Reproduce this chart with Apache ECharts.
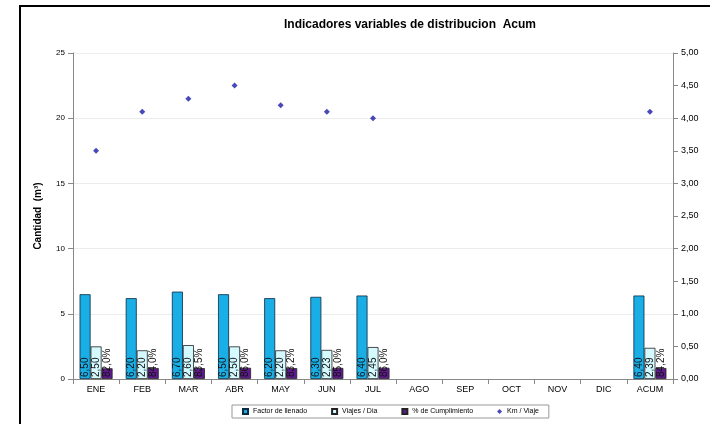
<!DOCTYPE html>
<html><head><meta charset="utf-8">
<script src="https://cdn.jsdelivr.net/npm/echarts@6/dist/echarts.min.js"></script>
<style>html,body{margin:0;padding:0;background:#fff}#c{width:710px;height:424px}</style>
</head><body><div id="c"></div>
<script>
const categories = ['ENE','FEB','MAR','ABR','MAY','JUN','JUL','AGO','SEP','OCT','NOV','DIC','ACUM'];
const factorLlenado = [6.50,6.20,6.70,6.50,6.20,6.30,6.40,null,null,null,null,null,6.40];
const viajesDia = [2.50,2.20,2.60,2.50,2.20,2.23,2.45,null,null,null,null,null,2.39];
const cumplimiento = [0.820,0.840,0.835,0.860,0.832,0.850,0.860,null,null,null,null,null,0.842];
const kmViaje = [3.5,4.1,4.3,4.5,4.2,4.1,4.0,null,null,null,null,null,4.1];
const leftTicks = [0,5,10,15,20,25];
const rightTicks = [0,0.5,1,1.5,2,2.5,3,3.5,4,4.5,5];

const fmt2 = v => v.toFixed(2).replace('.', ',');
const fmtPct = v => (v*100).toFixed(1).replace('.', ',') + '%';
const chart = echarts.init(document.getElementById('c'));
const lbl = (f) => ({show:true, position:'insideBottom', rotate:90, align:'left', verticalAlign:'middle', distance:2,
  fontSize:10, fontFamily:'Liberation Sans, Arial', color:'#111', formatter: p => p.value==null?'':f(p.value)});
chart.setOption({
  animation:false,
  textStyle:{fontFamily:'Liberation Sans, Arial'},
  title:{text:'Indicadores variables de distribucion  Acum', left:405, textAlign:'center', top:14,
    textStyle:{fontSize:12, fontWeight:'bold', color:'#000'}},
  graphic:[{type:'rect', shape:{x:20,y:6,width:700,height:440}, style:{fill:'none', stroke:'#000', lineWidth:2}, silent:true}],
  legend:{bottom:6, left:232, itemWidth:5, itemHeight:5, itemGap:24, borderColor:'#999', borderWidth:1, padding:[3,10],
    textStyle:{fontSize:7, color:'#000'},
    data:[{name:'Factor de llenado', icon:'rect'},{name:'Viajes / Dia', icon:'rect'},{name:'% de Cumplimiento', icon:'rect'},{name:'Km / Viaje', icon:'diamond'}]},
  grid:{left:73, right:37, top:53, bottom:45},
  xAxis:{type:'category', data:categories, axisLine:{lineStyle:{color:'#888'}}, axisTick:{show:true, alignWithLabel:false, lineStyle:{color:'#888'}},
    axisLabel:{fontSize:9, color:'#000', margin:6}},
  yAxis:[
    {type:'value', min:0, max:25, interval:5, name:'Cantidad  (m³)', nameLocation:'middle', nameGap:30, nameRotate:90,
      nameTextStyle:{fontSize:10, fontWeight:'bold', color:'#000'},
      axisLine:{show:true, lineStyle:{color:'#888'}}, axisTick:{show:true, lineStyle:{color:'#888'}},
      axisLabel:{fontSize:8, color:'#000'}, splitLine:{lineStyle:{color:'#ececec'}}},
    {type:'value', min:0, max:5, interval:0.5, position:'right',
      axisLine:{show:true, lineStyle:{color:'#888'}}, axisTick:{show:true, lineStyle:{color:'#888'}},
      axisLabel:{fontSize:9, color:'#000', formatter: v => fmt2(v)}, splitLine:{show:false}}
  ],
  series:[
    {name:'Factor de llenado', type:'bar', data:factorLlenado, barWidth:11, barGap:'0%',
      itemStyle:{color:'#19AEE6', borderColor:'#0a2a40', borderWidth:0.8}, label:lbl(fmt2)},
    {name:'Viajes / Dia', type:'bar', data:viajesDia, barWidth:11,
      itemStyle:{color:'#D4FAFF', borderColor:'#222', borderWidth:0.8}, label:lbl(fmt2)},
    {name:'% de Cumplimiento', type:'bar', data:cumplimiento, barWidth:11,
      itemStyle:{color:'#5E1A8C', borderColor:'#222', borderWidth:0.8}, label:lbl(fmtPct)},
    {name:'Km / Viaje', type:'scatter', yAxisIndex:1, data:kmViaje, symbol:'diamond', symbolSize:6,
      itemStyle:{color:'#1a1aa8'}}
  ]
});
</script></body></html>
